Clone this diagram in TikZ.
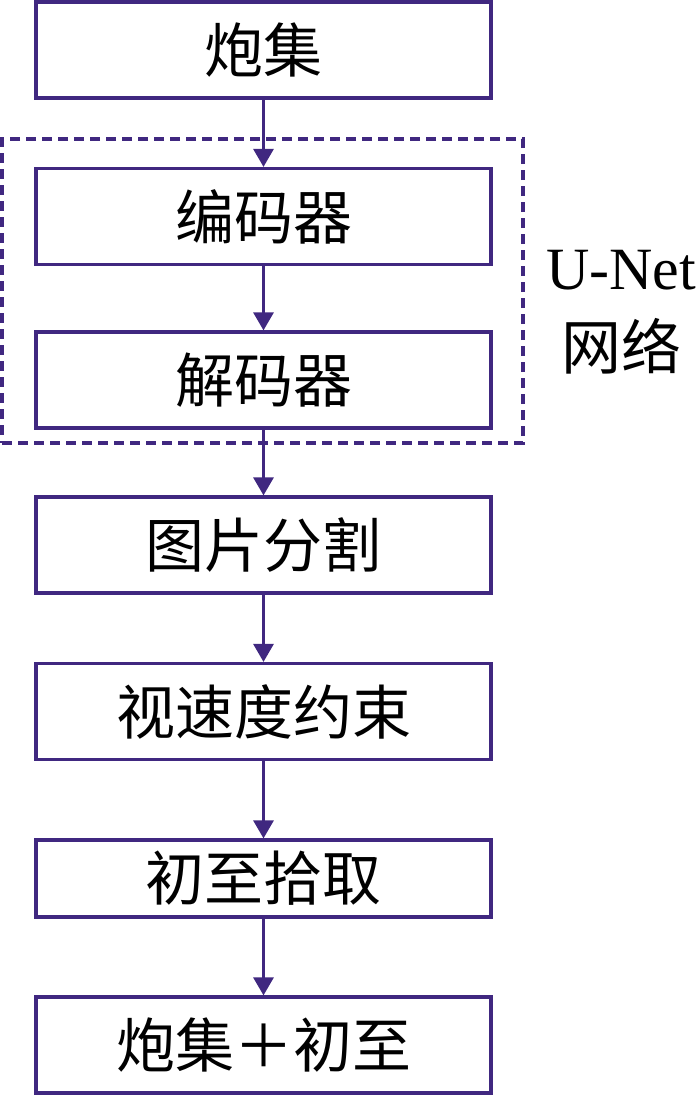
\documentclass[tikz,border=0pt]{standalone}
\usepackage{fontspec}
\setmainfont{Liberation Serif}
\newfontfamily\cjk{Noto Sans CJK SC}
\usetikzlibrary{arrows.meta}
\definecolor{flowpurple}{RGB}{64,40,128}
\begin{document}
\begin{tikzpicture}[x = 1pt, y = -1pt]
    \useasboundingbox (0,0) rectangle (700,1095);
    \begin{scope}[rectangle, every node/.style={draw = flowpurple, line width = 3.2pt, minimum width = 455pt, minimum height = 96pt, font = \cjk\fontsize{59}{59}\selectfont}, inner sep = 0pt]
    \node (paoji) at (263.5,50) {炮集};
    \node (bianma) at (263.5,216.5) {编码器};
    \node (jiema) at (263.5,380) {解码器};
    \node (fenge) at (263.5,545) {图片分割};
    \node (yueshu) at (263.5,711.5) {视速度约束};
    \node[minimum height = 77pt] (shiqu) at (263.5,878.5) {初至拾取};
    \node (jieguo) at (263.5,1045) {炮集＋初至};
    \end{scope}
    \node[draw = flowpurple, line width = 3.6pt, dash pattern = on 10pt off 6pt, minimum width = 521pt, minimum height = 304pt, inner sep = 0pt] (unet) at (262.5,291) {};
    \node[align = center, font = \fontsize{60}{80}\selectfont, inner sep = 0pt] (unetlabel) at (621,312) {U-Net\\{\cjk 网络}};
    \begin{scope}[flowpurple, line width = 3pt, -{Triangle[width = 20pt, length = 18pt]}]
      \draw (paoji) -- (bianma);
      \draw (bianma) -- (jiema);
      \draw (jiema) -- (fenge);
      \draw (fenge) -- (yueshu);
      \draw (yueshu) -- (shiqu);
      \draw (shiqu) -- (jieguo);
    \end{scope}
\end{tikzpicture}
\end{document}
